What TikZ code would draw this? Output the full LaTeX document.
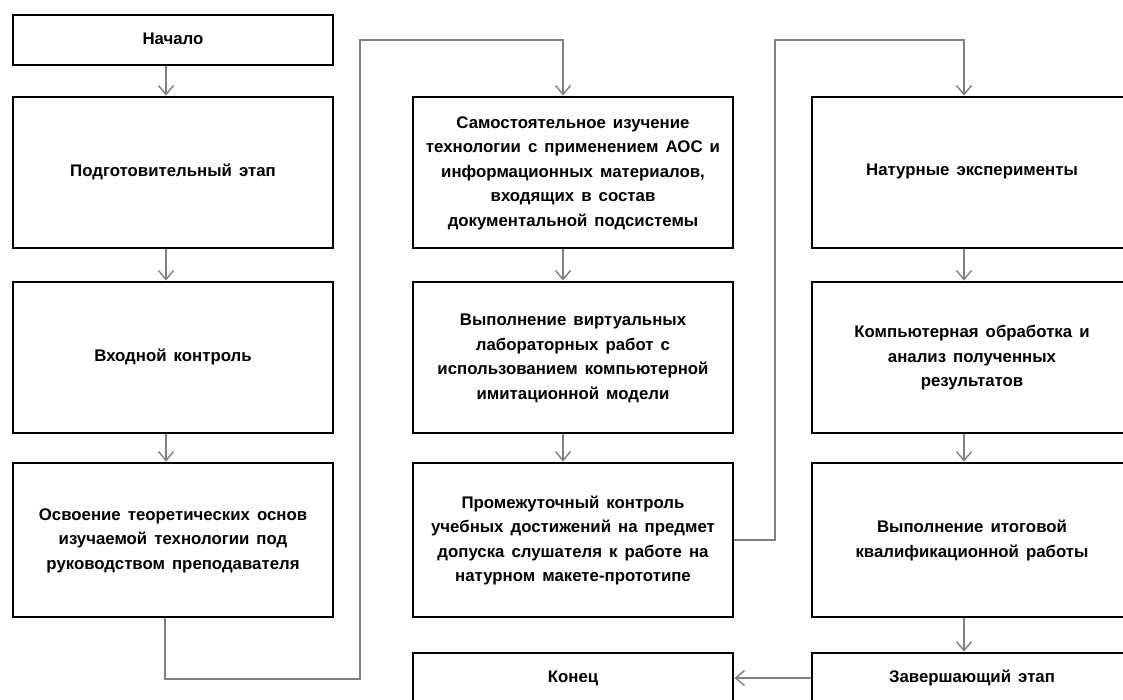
\documentclass[tikz,border=0pt]{standalone}
\usepackage{fontspec}
\setmainfont{Liberation Sans}
\usetikzlibrary{arrows.meta}
\newcommand{\bxt}[2]{\spaceskip=0.42em plus 0.1em minus 0.05em\relax\raisebox{#1}{\begin{tabular}{@{}c@{}}#2\end{tabular}}}
\begin{document}
\begin{tikzpicture}[x=1pt,y=-1pt,
  box/.style={draw=black, line width=2.8pt, fill=white, minimum width=320pt,
    inner sep=0pt, align=center, text=black,
    font=\bfseries\fontsize{16.8}{24.5}\selectfont},
  conn/.style={draw=black!50, line width=1.4pt, line join=miter,
    -{Straight Barb[length=9pt,width=15pt,line width=1.4pt]}}
]
\useasboundingbox (0,0) rectangle (1123,700);

% column 1
\node[box, minimum height=50pt]  (nach)  at (173,40)    {\bxt{0pt}{Начало}};
\node[box, minimum height=151pt] (podg)  at (173,172.5) {\bxt{9.5pt}{Подготовительный этап}};
\node[box, minimum height=151pt] (vkhod) at (173,357.5) {\bxt{10pt}{Входной контроль}};
\node[box, minimum height=154pt] (osv)   at (173,540)   {\bxt{-9pt}{Освоение теоретических основ\\изучаемой технологии под\\руководством преподавателя}};

% column 2
\node[box, minimum height=151pt] (sam)   at (573,172.5) {\bxt{0pt}{Самостоятельное изучение\\технологии с применением АОС и\\информационных материалов,\\входящих в состав\\документальной подсистемы}};
\node[box, minimum height=151pt] (virt)  at (573,357.5) {\bxt{0pt}{Выполнение виртуальных\\лабораторных работ с\\использованием компьютерной\\имитационной модели}};
\node[box, minimum height=154pt] (prom)  at (573,540)   {\bxt{5pt}{Промежуточный контроль\\учебных достижений на предмет\\допуска слушателя к работе на\\натурном макете-прототипе}};
\node[box, minimum height=50pt]  (kon)   at (573,678)   {\bxt{0pt}{Конец}};

% column 3
\node[box, minimum height=151pt] (nat)   at (972,172.5) {\bxt{12pt}{Натурные эксперименты}};
\node[box, minimum height=151pt] (komp)  at (972,357.5) {\bxt{0pt}{Компьютерная обработка и\\анализ полученных\\результатов}};
\node[box, minimum height=154pt] (itog)  at (972,540)   {\bxt{7pt}{Выполнение итоговой\\квалификационной работы}};
\node[box, minimum height=50pt]  (zav)   at (972,678)   {\bxt{0pt}{Завершающий этап}};

% turning points
\coordinate (b1) at (360,679);
\coordinate (t1) at (360,40);
\coordinate (t2) at (775,40);

% connectors, column 1
\draw[conn] ([xshift=-7pt]nach.south) -- ([xshift=-7pt]podg.north);
\draw[conn] ([xshift=-7pt]podg.south) -- ([xshift=-7pt]vkhod.north);
\draw[conn] ([xshift=-7pt]vkhod.south) -- ([xshift=-7pt]osv.north);
\draw[conn] ([xshift=-8pt]osv.south) |- (b1) -- (t1) -| ([xshift=-10pt]sam.north);

% column 2
\draw[conn] ([xshift=-10pt]sam.south) -- ([xshift=-10pt]virt.north);
\draw[conn] ([xshift=-10pt]virt.south) -- ([xshift=-10pt]prom.north);
\draw[conn] (prom.east) -| (t2) -| ([xshift=-8pt]nat.north);

% column 3
\draw[conn] ([xshift=-8pt]nat.south) -- ([xshift=-8pt]komp.north);
\draw[conn] ([xshift=-8pt]komp.south) -- ([xshift=-8pt]itog.north);
\draw[conn] ([xshift=-8pt]itog.south) -- ([xshift=-8pt]zav.north);
\draw[conn] (zav.west) -- (kon.east);
\end{tikzpicture}
\end{document}
